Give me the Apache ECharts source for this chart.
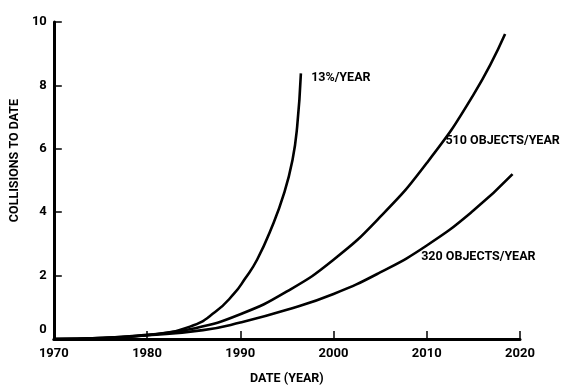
<!DOCTYPE html>
<html>
<head>
<meta charset="utf-8">
<script src="https://cdn.jsdelivr.net/npm/echarts@6/dist/echarts.min.js"></script>
<style>
html,body{margin:0;padding:0;background:#fff;}
#chart{width:582px;height:390px;}
</style>
</head>
<body>
<div id="chart"></div>
<script>
// Data: [year, collisions to date]
const series13pct = [
  [1970, 0], [1975, 0.03], [1980, 0.12], [1984.6, 0.39], [1987.3, 0.85],
  [1989.3, 1.42], [1990.5, 1.9], [1991.8, 2.5], [1993.4, 3.54],
  [1994.7, 4.6], [1995.6, 5.65], [1996.1, 6.7], [1996.5, 8.38]
];
const series510 = [
  [1970, 0], [1975, 0.03], [1980, 0.13], [1985, 0.33], [1990, 0.78],
  [1995, 1.5], [2000, 2.5], [2005, 3.85], [2010, 5.55],
  [2015, 7.7], [2018.4, 9.62]
];
const series320 = [
  [1970, 0], [1975, 0.03], [1980, 0.12], [1986, 0.28], [1990, 0.52],
  [1995, 0.92], [2000, 1.42], [2005, 2.1], [2010, 2.95],
  [2015, 4.05], [2019.2, 5.2]
];
const seriesNames = ['13%/YEAR', '510 OBJECTS/YEAR', '320 OBJECTS/YEAR'];
const labelAnchors = [[1997.6, 8.23], [2012.0, 6.25], [2009.4, 2.59]];
const xTicks = [1970, 1980, 1990, 2000, 2010, 2020];
const yTicks = [0, 2, 4, 6, 8, 10];

const FONT = 'Roboto, "DejaVu Sans Condensed", sans-serif';
const chart = echarts.init(document.getElementById('chart'), null, {renderer: 'canvas'});

function mkSeries(name, data, anchor) {
  return {
    name: name,
    type: 'line',
    data: data,
    smooth: 0.5,
    showSymbol: false,
    symbol: 'none',
    lineStyle: {color: '#000', width: 2.6},
    animation: false,
    markPoint: {
      symbol: 'circle',
      symbolSize: 0,
      animation: false,
      data: [{coord: anchor, value: name}],
      label: {
        show: true,
        position: 'right',
        distance: 0,
        formatter: name,
        color: '#000',
        fontFamily: FONT,
        fontWeight: 'bold',
        fontSize: 12.5
      }
    }
  };
}

chart.setOption({
  backgroundColor: '#fff',
  animation: false,
  grid: {left: 49, right: 62, top: 22, bottom: 51, containLabel: false},
  xAxis: {
    type: 'value',
    min: xTicks[0],
    max: xTicks[xTicks.length - 1],
    interval: 10,
    name: 'DATE (YEAR)',
    nameLocation: 'middle',
    nameGap: 33,
    nameTextStyle: {color: '#000', fontFamily: FONT, fontWeight: 'bold', fontSize: 12.5},
    axisLine: {show: true, onZero: false, lineStyle: {color: '#000', width: 3}},
    axisTick: {show: true, inside: true, length: 8, lineStyle: {color: '#000', width: 1.5}},
    axisLabel: {
      color: '#000', fontFamily: FONT, fontWeight: 'bold', fontSize: 13, margin: 8,
      formatter: v => String(v)
    },
    splitLine: {show: false}
  },
  yAxis: {
    type: 'value',
    min: yTicks[0],
    max: yTicks[yTicks.length - 1],
    interval: 2,
    name: 'COLLISIONS TO DATE',
    nameLocation: 'middle',
    nameGap: 26,
    nameTextStyle: {color: '#000', fontFamily: FONT, fontWeight: 'bold', fontSize: 12.5, padding: [0, 0, 0, 40]},
    axisLine: {show: true, onZero: false, lineStyle: {color: '#000', width: 3}},
    axisTick: {show: true, inside: true, length: 8, lineStyle: {color: '#000', width: 1.5}},
    axisLabel: {
      color: '#000', fontFamily: FONT, fontWeight: 'bold', fontSize: 13, margin: 7,
      formatter: v => v === 0 ? '{z|0}' : String(v),
      rich: {z: {color: '#000', fontFamily: FONT, fontWeight: 'bold', fontSize: 13, padding: [0, 0, 18, 0]}}
    },
    splitLine: {show: false}
  },
  series: [
    mkSeries(seriesNames[0], series13pct, labelAnchors[0]),
    mkSeries(seriesNames[1], series510, labelAnchors[1]),
    mkSeries(seriesNames[2], series320, labelAnchors[2])
  ]
});
</script>
</body>
</html>
